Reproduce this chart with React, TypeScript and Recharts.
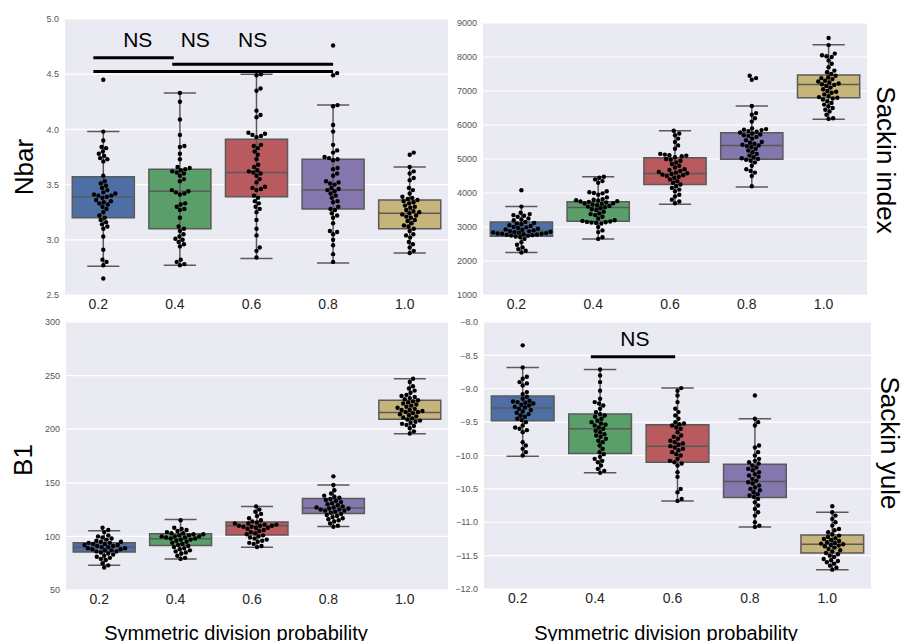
import React from 'react';
import {
  ComposedChart,
  XAxis,
  YAxis,
  CartesianGrid,
  Scatter,
  ReferenceArea,
  ReferenceLine,
  ReferenceDot,
} from 'recharts';

const categories = ['0.2', '0.4', '0.6', '0.8', '1.0'];
const boxColors = ['#4E6FA6', '#5A9E6A', '#B85A5E', '#8377AE', '#C6B47B'];

// [whiskerLow, q1, median, q3, whiskerHigh]
const nbarBoxes = [
  [2.76, 3.2, 3.39, 3.57, 3.98],
  [2.77, 3.1, 3.44, 3.64, 4.33],
  [2.83, 3.39, 3.61, 3.91, 4.5],
  [2.79, 3.28, 3.45, 3.73, 4.22],
  [2.88, 3.1, 3.24, 3.36, 3.66],
];
const nbarPoints = [
  [4.45, 3.98, 3.9, 3.84, 3.83, 3.8, 3.78, 3.76, 3.74, 3.73, 3.71, 3.58, 3.53, 3.51, 3.49, 3.47, 3.45, 3.43, 3.42, 3.41, 3.4, 3.4, 3.39, 3.38, 3.36, 3.35, 3.34, 3.33, 3.32, 3.3, 3.28, 3.25, 3.22, 3.2, 3.18, 3.16, 3.14, 3.12, 3.1, 3.03, 2.91, 2.82, 2.8, 2.77, 2.65],
  [4.33, 4.25, 4.09, 3.95, 3.85, 3.84, 3.78, 3.73, 3.66, 3.65, 3.64, 3.63, 3.62, 3.61, 3.6, 3.58, 3.55, 3.53, 3.45, 3.44, 3.43, 3.42, 3.41, 3.33, 3.32, 3.3, 3.28, 3.27, 3.2, 3.12, 3.1, 3.08, 3.05, 3.03, 3.01, 3.0, 2.98, 2.96, 2.94, 2.82, 2.8, 2.78, 2.77],
  [4.5, 4.49, 4.37, 4.35, 4.17, 4.13, 4.11, 3.97, 3.96, 3.95, 3.94, 3.93, 3.86, 3.85, 3.83, 3.8, 3.77, 3.73, 3.68, 3.66, 3.63, 3.62, 3.61, 3.6, 3.58, 3.55, 3.52, 3.48, 3.47, 3.46, 3.45, 3.4, 3.38, 3.35, 3.33, 3.3, 3.28, 3.25, 3.18, 3.1, 3.04, 2.93, 2.9, 2.84],
  [4.76, 4.51, 4.49, 4.22, 4.21, 4.04, 3.98, 3.86, 3.81, 3.79, 3.75, 3.74, 3.73, 3.72, 3.65, 3.64, 3.6, 3.58, 3.53, 3.52, 3.51, 3.5, 3.47, 3.46, 3.45, 3.44, 3.42, 3.4, 3.38, 3.35, 3.34, 3.3, 3.28, 3.27, 3.24, 3.22, 3.2, 3.15, 3.08, 3.07, 3.05, 3.0, 2.95, 2.87, 2.8],
  [3.79, 3.77, 3.66, 3.62, 3.6, 3.56, 3.54, 3.47, 3.45, 3.42, 3.39, 3.38, 3.37, 3.36, 3.35, 3.34, 3.33, 3.31, 3.3, 3.29, 3.27, 3.26, 3.25, 3.24, 3.23, 3.22, 3.21, 3.2, 3.18, 3.17, 3.15, 3.13, 3.12, 3.1, 3.08, 3.05, 3.04, 3.02, 2.98, 2.96, 2.93, 2.9, 2.88],
];

const sackinBoxes = [
  [2250, 2730, 2880, 3150, 3600],
  [2650, 3170, 3575, 3740, 4480],
  [3670, 4250, 4575, 5035, 5830],
  [4180, 4995, 5400, 5770, 6560],
  [6170, 6800, 7190, 7470, 8360],
];
const sackinPoints = [
  [4080, 3600, 3420, 3380, 3350, 3330, 3300, 3250, 3220, 3200, 3150, 3120, 3100, 3080, 3050, 3030, 3000, 2990, 2970, 2950, 2930, 2920, 2900, 2880, 2870, 2860, 2850, 2840, 2830, 2820, 2810, 2800, 2800, 2790, 2780, 2770, 2760, 2750, 2740, 2720, 2700, 2650, 2550, 2480, 2400, 2350, 2300, 2250],
  [4480, 4450, 4400, 4350, 4300, 4050, 4020, 4000, 3990, 3950, 3870, 3820, 3800, 3790, 3780, 3760, 3750, 3740, 3720, 3700, 3690, 3680, 3660, 3640, 3620, 3600, 3580, 3550, 3520, 3500, 3450, 3400, 3380, 3350, 3300, 3250, 3200, 3180, 3160, 3150, 3140, 3130, 3120, 3100, 3000, 2900, 2850, 2700, 2650],
  [5830, 5750, 5700, 5600, 5500, 5400, 5300, 5150, 5130, 5110, 5100, 5080, 5050, 5000, 4980, 4950, 4900, 4850, 4800, 4750, 4700, 4680, 4650, 4620, 4600, 4580, 4560, 4540, 4520, 4500, 4480, 4450, 4400, 4350, 4300, 4250, 4200, 4150, 4100, 4050, 3950, 3900, 3800, 3750, 3700],
  [7450, 7380, 7330, 6560, 6350, 6300, 6200, 6100, 5900, 5880, 5860, 5850, 5820, 5800, 5780, 5750, 5720, 5700, 5680, 5650, 5600, 5550, 5500, 5480, 5450, 5420, 5400, 5380, 5350, 5300, 5250, 5200, 5150, 5100, 5050, 5020, 5000, 4980, 4950, 4900, 4800, 4700, 4650, 4600, 4500, 4200],
  [8560, 8350, 8100, 8050, 8020, 8000, 7900, 7800, 7700, 7600, 7550, 7500, 7450, 7400, 7380, 7350, 7300, 7280, 7250, 7220, 7200, 7180, 7150, 7100, 7050, 7000, 6980, 6950, 6900, 6850, 6820, 6800, 6780, 6750, 6700, 6650, 6600, 6550, 6500, 6450, 6400, 6300, 6200, 6180],
];

const b1Boxes = [
  [73, 85.5, 89.8, 94.1, 105.3],
  [79, 91.6, 97.8, 102.5, 115.8],
  [89.8, 101.3, 110, 113.4, 128],
  [109.3, 121.4, 126.4, 135.4, 148],
  [195.7, 209.3, 215.5, 227, 247],
];
const b1Points = [
  [108, 106, 104, 101, 100, 99, 98, 97, 96, 95, 95, 94, 94, 93, 93, 92, 92, 91, 91, 90, 90, 89, 89, 88, 88, 87, 87, 86, 86, 85, 84, 83, 82, 81, 80, 79, 78, 75, 73, 71],
  [115, 108, 107, 106, 105, 104, 103, 103, 102, 102, 101, 101, 100, 100, 100, 99, 99, 98, 98, 97, 97, 96, 95, 94, 93, 92, 91, 90, 89, 88, 87, 86, 85, 84, 82, 80, 79],
  [128, 125, 123, 121, 119, 117, 115, 114, 113, 112, 112, 111, 111, 110, 110, 110, 109, 109, 108, 108, 107, 106, 105, 104, 103, 102, 101, 100, 99, 98, 97, 96, 95, 94, 93, 91, 90],
  [156, 148, 143, 140, 138, 137, 136, 135, 134, 133, 132, 131, 130, 129, 128, 127, 127, 126, 126, 125, 125, 124, 124, 123, 122, 121, 120, 119, 118, 117, 116, 115, 114, 112, 110, 109],
  [247, 244, 240, 238, 236, 234, 232, 231, 230, 229, 228, 227, 226, 225, 224, 223, 222, 221, 220, 219, 218, 218, 217, 216, 216, 215, 214, 213, 212, 211, 210, 209, 208, 207, 206, 205, 204, 203, 201, 198, 196],
];

const yuleBoxes = [
  [-10.01, -9.48, -9.29, -9.11, -8.68],
  [-10.26, -9.97, -9.6, -9.38, -8.71],
  [-10.68, -10.1, -9.86, -9.54, -8.99],
  [-11.07, -10.63, -10.39, -10.13, -9.45],
  [-11.71, -11.46, -11.33, -11.19, -10.85],
];
const yulePoints = [
  [-8.35, -8.68, -8.82, -8.85, -8.9, -8.92, -8.95, -9.05, -9.08, -9.12, -9.15, -9.18, -9.19, -9.2, -9.21, -9.22, -9.24, -9.25, -9.27, -9.28, -9.3, -9.32, -9.34, -9.36, -9.38, -9.4, -9.42, -9.45, -9.47, -9.5, -9.55, -9.58, -9.6, -9.62, -9.65, -9.8, -9.85, -9.9, -9.95, -10.0],
  [-8.71, -8.8, -8.9, -9.03, -9.15, -9.2, -9.22, -9.25, -9.3, -9.35, -9.38, -9.4, -9.42, -9.45, -9.48, -9.5, -9.52, -9.54, -9.55, -9.58, -9.6, -9.63, -9.65, -9.68, -9.7, -9.72, -9.75, -9.78, -9.8, -9.85, -9.9, -9.95, -9.98, -10.02, -10.05, -10.08, -10.1, -10.15, -10.2, -10.23, -10.26],
  [-8.99, -9.03, -9.1, -9.2, -9.3, -9.35, -9.4, -9.45, -9.5, -9.52, -9.53, -9.55, -9.58, -9.6, -9.65, -9.7, -9.72, -9.75, -9.78, -9.8, -9.82, -9.84, -9.86, -9.88, -9.9, -9.92, -9.95, -9.98, -10.0, -10.05, -10.08, -10.1, -10.12, -10.15, -10.25, -10.32, -10.5, -10.55, -10.65, -10.68],
  [-9.1, -9.45, -9.5, -9.55, -9.85, -9.88, -9.95, -10.0, -10.05, -10.08, -10.1, -10.12, -10.15, -10.18, -10.2, -10.22, -10.25, -10.28, -10.3, -10.32, -10.35, -10.38, -10.4, -10.42, -10.45, -10.48, -10.5, -10.52, -10.55, -10.58, -10.6, -10.62, -10.65, -10.7, -10.75, -10.8, -10.85, -10.9, -11.0, -11.05, -11.07],
  [-10.76, -10.85, -10.9, -10.95, -11.0, -11.05, -11.1, -11.12, -11.15, -11.18, -11.2, -11.22, -11.24, -11.25, -11.27, -11.28, -11.3, -11.31, -11.32, -11.33, -11.34, -11.35, -11.36, -11.38, -11.4, -11.42, -11.44, -11.46, -11.48, -11.5, -11.52, -11.55, -11.57, -11.58, -11.6, -11.62, -11.65, -11.68, -11.71],
];

const nbarTicks = [2.5, 3.0, 3.5, 4.0, 4.5, 5.0];
const sackinTicks = [1000, 2000, 3000, 4000, 5000, 6000, 7000, 8000, 9000];
const b1Ticks = [50, 100, 150, 200, 250, 300];
const yuleTicks = [-12.0, -11.5, -11.0, -10.5, -10.0, -9.5, -9.0, -8.5, -8.0];

// significance bars: [xStart, xEnd, y] in category units
const nbarSigBars = [
  [-0.13, 0.92, 4.65],
  [0.9, 3.0, 4.59],
  [-0.13, 3.0, 4.525],
];
const nbarSigLabels = [
  [0.45, 4.75],
  [1.2, 4.75],
  [1.95, 4.75],
];
const yuleSigBars = [[0.88, 1.97, -8.52]];
const yuleSigLabels = [[1.45, -8.36]];

const FONT = '"Liberation Sans", Arial, Helvetica, sans-serif';
const DOT_D = 4.6;
const BOX_HALF = 0.405;
const CAP_HALF = 0.21;
const EDGE = '#5a5a5a';

function swarm(vals: number[], pxPerUnit: number, d: number): number[] {
  const order = vals.map((_, i) => i).sort((a, b) => vals[a] - vals[b]);
  const placed: { x: number; y: number }[] = [];
  const out = new Array(vals.length).fill(0);
  for (const i of order) {
    const y = vals[i] * pxPerUnit;
    const near = placed.filter((p) => Math.abs(p.y - y) < d);
    const cands = [0];
    for (const p of near) {
      const dx = Math.sqrt(d * d - (p.y - y) * (p.y - y));
      cands.push(p.x + dx, p.x - dx);
    }
    cands.sort((a, b) => Math.abs(a) - Math.abs(b));
    let best = 0;
    for (const c of cands) {
      if (near.every((p) => (p.x - c) ** 2 + (p.y - y) ** 2 >= d * d - 1e-6)) {
        best = c;
        break;
      }
    }
    placed.push({ x: best, y });
    out[i] = best;
  }
  return out;
}

type PanelProps = {
  left: number;
  top: number;
  plotW: number;
  plotH: number;
  domain: [number, number];
  ticks: number[];
  fmt: (v: number) => string;
  boxes: number[][];
  points: number[][];
  sigBars?: number[][];
  sigLabels?: number[][];
};

const Dot = (props: any) => <circle cx={props.cx} cy={props.cy} r={2.2} fill="#000" />;

function Panel(p: PanelProps) {
  const pxPerY = p.plotH / (p.domain[1] - p.domain[0]);
  const band = p.plotW / 5;
  const scatterSets = p.points.map((vals, ci) => {
    const offs = swarm(vals, pxPerY, DOT_D);
    return vals.map((v, k) => ({ x: ci + offs[k] / band, y: v }));
  });
  return (
    <div style={{ position: 'absolute', left: p.left - 50, top: p.top - 10 }}>
      <ComposedChart
        width={p.plotW + 60}
        height={p.plotH + 40}
        margin={{ top: 10, right: 10, bottom: 0, left: 0 }}
      >
        <CartesianGrid vertical={false} stroke="#ffffff" strokeWidth={1.2} fill="#EAEAF2" />
        <XAxis
          type="number"
          dataKey="x"
          domain={[-0.5, 4.5]}
          ticks={[0, 1, 2, 3, 4]}
          interval={0}
          allowDataOverflow
          tickFormatter={(i: number) => categories[i]}
          axisLine={false}
          tickLine={false}
          tickSize={0}
          tickMargin={4}
          height={30}
          tick={{ fontSize: 14, fill: '#262626', fontFamily: FONT, dx: -5 }}
        />
        <YAxis
          type="number"
          dataKey="y"
          domain={p.domain}
          ticks={p.ticks}
          interval={0}
          allowDataOverflow
          tickFormatter={p.fmt}
          axisLine={false}
          tickLine={false}
          tickSize={0}
          tickMargin={6}
          width={50}
          tick={{ fontSize: 9, fill: '#555', fontFamily: FONT }}
        />
        {p.boxes.map((b, i) => (
          <ReferenceLine
            key={'w' + i}
            segment={[{ x: i, y: b[0] }, { x: i, y: b[4] }]}
            stroke={EDGE}
            strokeWidth={1.5}
          />
        ))}
        {p.boxes.map((b, i) => (
          <ReferenceLine
            key={'cl' + i}
            segment={[{ x: i - CAP_HALF, y: b[0] }, { x: i + CAP_HALF, y: b[0] }]}
            stroke={EDGE}
            strokeWidth={1.5}
          />
        ))}
        {p.boxes.map((b, i) => (
          <ReferenceLine
            key={'ch' + i}
            segment={[{ x: i - CAP_HALF, y: b[4] }, { x: i + CAP_HALF, y: b[4] }]}
            stroke={EDGE}
            strokeWidth={1.5}
          />
        ))}
        {p.boxes.map((b, i) => (
          <ReferenceArea
            key={'b' + i}
            x1={i - BOX_HALF}
            x2={i + BOX_HALF}
            y1={b[1]}
            y2={b[3]}
            fill={boxColors[i]}
            fillOpacity={1}
            stroke={EDGE}
            strokeWidth={1.5}
          />
        ))}
        {p.boxes.map((b, i) => (
          <ReferenceLine
            key={'m' + i}
            segment={[{ x: i - BOX_HALF, y: b[2] }, { x: i + BOX_HALF, y: b[2] }]}
            stroke={EDGE}
            strokeWidth={1.5}
          />
        ))}
        {(p.sigBars || []).map((s, i) => (
          <ReferenceLine
            key={'s' + i}
            segment={[{ x: s[0], y: s[2] }, { x: s[1], y: s[2] }]}
            stroke="#000"
            strokeWidth={3}
          />
        ))}
        {(p.sigLabels || []).map((s, i) => (
          <ReferenceDot
            key={'l' + i}
            x={s[0]}
            y={s[1]}
            r={0}
            shape={(sp: any) => (
              <text
                x={sp.cx}
                y={sp.cy}
                textAnchor="middle"
                fontSize={21}
                fontFamily={FONT}
                fill="#000"
              >
                NS
              </text>
            )}
          />
        ))}
        {scatterSets.map((set, i) => (
          <Scatter
            key={'p' + i}
            data={set}
            dataKey="y"
            shape={Dot}
            isAnimationActive={false}
          />
        ))}
      </ComposedChart>
    </div>
  );
}

const minus = (s: string) => s.replace('-', '\u2212');

export default function App() {
  return (
    <div
      style={{
        position: 'absolute',
        left: 0,
        top: 0,
        width: 903,
        height: 641,
        background: '#fff',
        overflow: 'hidden',
        fontFamily: FONT,
      }}
    >
      <svg width={903} height={641} style={{ position: 'absolute', left: 0, top: 0 }}>
        <text transform="translate(33,167) rotate(-90)" textAnchor="middle" fontSize={26} fontFamily={FONT} fill="#000">
          Nbar
        </text>
        <text transform="translate(32,460) rotate(-90)" textAnchor="middle" fontSize={26} fontFamily={FONT} fill="#000">
          B1
        </text>
        <text transform="translate(877,160) rotate(90)" textAnchor="middle" fontSize={26} fontFamily={FONT} fill="#000">
          Sackin index
        </text>
        <text transform="translate(881,443) rotate(90)" textAnchor="middle" fontSize={26} fontFamily={FONT} fill="#000">
          Sackin yule
        </text>
        <text x={236} y={640} textAnchor="middle" fontSize={20} fontFamily={FONT} fill="#000">
          Symmetric division probability
        </text>
        <text x={666} y={640} textAnchor="middle" fontSize={20} fontFamily={FONT} fill="#000">
          Symmetric division probability
        </text>
      </svg>
      <Panel
        left={65}
        top={19}
        plotW={383}
        plotH={276}
        domain={[2.5, 5.0]}
        ticks={nbarTicks}
        fmt={(v) => v.toFixed(1)}
        boxes={nbarBoxes}
        points={nbarPoints}
        sigBars={nbarSigBars}
        sigLabels={nbarSigLabels}
      />
      <Panel
        left={483}
        top={23}
        plotW={384}
        plotH={272}
        domain={[1000, 9000]}
        ticks={sackinTicks}
        fmt={(v) => String(v)}
        boxes={sackinBoxes}
        points={sackinPoints}
      />
      <Panel
        left={66}
        top={322}
        plotW={382}
        plotH={268}
        domain={[50, 300]}
        ticks={b1Ticks}
        fmt={(v) => String(v)}
        boxes={b1Boxes}
        points={b1Points}
      />
      <Panel
        left={484}
        top={322}
        plotW={387}
        plotH={267}
        domain={[-12, -8]}
        ticks={yuleTicks}
        fmt={(v) => minus(v.toFixed(1))}
        boxes={yuleBoxes}
        points={yulePoints}
        sigBars={yuleSigBars}
        sigLabels={yuleSigLabels}
      />
    </div>
  );
}
